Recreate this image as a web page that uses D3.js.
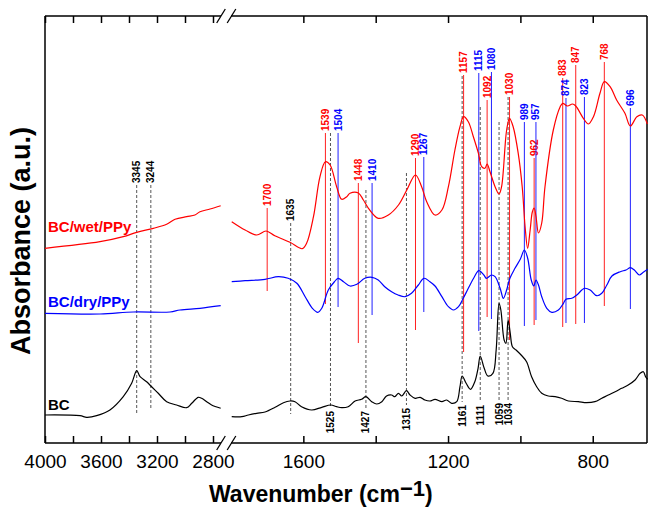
<!DOCTYPE html>
<html>
<head>
<meta charset="utf-8">
<script src="https://cdn.jsdelivr.net/npm/d3@7"></script>
<style>
  body { margin: 0; background: #fff; }
  svg { display: block; font-family: Arial, "Liberation Sans", sans-serif; }
</style>
</head>
<body>
<div id="chart"></div>
<script>
// spectra: [wavenumber (cm-1), absorbance (a.u.)]
const wetPPy = [
  [4000,1.947],[3607,2.013],[3441,2.063],[3345,2.107],[3226,2.147],[3131,2.187],[3071,2.237],
  [2988,2.263],[2929,2.28],[2893,2.313],[2821,2.34],[2745,2.373],
  [1798,2.213],[1761,2.13],[1729,2.08],[1703,2.12],[1679,2.073],[1637,2.007],[1603,1.943],
  [1591,1.997],[1572,2.263],[1554,2.663],[1539,2.813],[1526,2.78],[1508,2.563],[1494,2.437],
  [1480,2.463],[1471,2.497],[1448,2.5],[1434,2.43],[1420,2.347],[1393,2.247],[1365,2.28],
  [1337,2.38],[1314,2.53],[1290,2.68],[1273,2.563],[1259,2.413],[1236,2.28],[1217,2.33],
  [1199,2.563],[1181,2.93],[1167,3.163],[1157,3.263],[1144,3.213],[1130,3.063],[1116,2.897],
  [1107,2.763],[1098,2.747],[1092,2.79],[1084,2.713],[1070,2.563],[1059,2.49],[1052,2.563],
  [1038,3.13],[1030,3.247],[1020,3.163],[1006,2.897],[995,2.563],[987,2.163],[980,1.947],
  [973,2.13],[967,2.31],[962,2.35],[957,2.27],[950,2.1],[941,2.2],[932,2.563],[909,3.13],
  [890,3.363],[883,3.397],[870,3.37],[856,3.39],[847,3.37],[826,3.247],[812,3.19],[798,3.263],
  [780,3.497],[768,3.613],[752,3.563],[734,3.43],[711,3.297],[696,3.17],[678,3.263],[663,3.28],
  [649,3.19]
];
const dryPPy = [
  [4000,1.297],[3607,1.29],[3369,1.31],[3107,1.31],[3036,1.33],[2893,1.347],[2745,1.373],
  [1798,1.613],[1761,1.623],[1706,1.637],[1669,1.663],[1642,1.647],[1618,1.597],[1595,1.463],
  [1575,1.347],[1560,1.307],[1549,1.347],[1531,1.53],[1514,1.613],[1504,1.647],[1489,1.613],
  [1471,1.57],[1452,1.587],[1430,1.647],[1410,1.657],[1393,1.63],[1375,1.563],[1356,1.513],
  [1338,1.48],[1319,1.463],[1301,1.497],[1282,1.58],[1267,1.647],[1250,1.613],[1236,1.57],
  [1217,1.463],[1199,1.363],[1185,1.33],[1171,1.363],[1158,1.447],[1144,1.547],[1127,1.663],
  [1115,1.723],[1101,1.68],[1094,1.647],[1080,1.68],[1070,1.663],[1056,1.547],[1047,1.447],
  [1038,1.53],[1029,1.647],[1015,1.747],[1000,1.84],[989,1.93],[980,1.85],[970,1.63],
  [963,1.57],[957,1.63],[950,1.58],[941,1.463],[927,1.347],[913,1.307],[895,1.33],[881,1.397],
  [874,1.437],[858,1.447],[844,1.48],[830,1.53],[823,1.547],[807,1.53],[789,1.473],[775,1.497],
  [761,1.58],[747,1.67],[724,1.713],[708,1.73],[696,1.753],[685,1.73],[671,1.68],[662,1.703],
  [648,1.737]
];
const bc = [
  [4000,0.28],[3750,0.273],[3702,0.257],[3631,0.273],[3536,0.33],[3441,0.463],[3381,0.597],
  [3345,0.723],[3321,0.663],[3274,0.613],[3244,0.57],[3191,0.497],[3131,0.413],[3060,0.38],
  [2988,0.353],[2952,0.397],[2905,0.457],[2881,0.447],[2845,0.413],[2810,0.38],[2745,0.347],
  [1798,0.263],[1770,0.263],[1752,0.28],[1729,0.297],[1706,0.31],[1678,0.357],[1655,0.403],
  [1637,0.42],[1623,0.413],[1605,0.363],[1577,0.33],[1549,0.357],[1524,0.38],[1508,0.363],
  [1494,0.353],[1476,0.363],[1457,0.42],[1439,0.437],[1427,0.463],[1411,0.413],[1397,0.39],
  [1383,0.413],[1370,0.47],[1356,0.48],[1347,0.463],[1337,0.497],[1328,0.47],[1315,0.523],
  [1305,0.48],[1291,0.447],[1277,0.457],[1264,0.43],[1250,0.42],[1236,0.437],[1217,0.413],
  [1204,0.43],[1190,0.397],[1176,0.413],[1167,0.563],[1161,0.67],[1150,0.597],[1138,0.537],
  [1126,0.613],[1117,0.747],[1111,0.87],[1100,0.747],[1090,0.67],[1076,0.697],[1067,0.93],
  [1059,1.397],[1054,1.33],[1045,1.03],[1040,0.997],[1034,1.23],[1028,1.097],[1022,0.963],
  [1012,0.93],[998,0.88],[983,0.813],[969,0.663],[955,0.563],[941,0.497],[923,0.47],
  [904,0.463],[886,0.447],[867,0.42],[840,0.413],[817,0.403],[794,0.413],[775,0.447],
  [757,0.48],[738,0.513],[720,0.547],[702,0.58],[683,0.63],[669,0.697],[660,0.713],
  [654,0.663],[648,0.637]
];

// band markers: [wavenumber, top, bottom] in absorbance units
const redMarks = [[1700,2.35,1.52],[1539,3.10,1.39],[1448,2.60,1.00],[1290,2.85,1.13],
  [1157,3.68,0.91],[1092,3.43,1.26],[1030,3.46,1.03],[962,2.85,1.18],[883,3.65,1.16],
  [847,3.78,1.19],[768,3.81,1.37]];
const blueMarks = [[1504,3.10,1.36],[1410,2.60,1.28],[1267,2.86,1.31],[1115,3.70,1.12],
  [1080,3.71,1.24],[989,3.21,1.17],[957,3.21,1.23],[874,3.45,1.20],[823,3.46,1.20],
  [696,3.35,1.34]];
const bcTopMarks = [[3345,2.58,0.30],[3244,2.58,0.33],[1635,2.20,0.29]];
const bcBottomMarks = [[1525,3.10,0.35],[1427,2.53,0.35],[1315,2.70,0.38],[1161,3.67,0.41],
  [1111,3.36,0.41],[1059,3.21,0.43],[1034,3.46,0.43]];

const leftTicks = [4000,3800,3600,3400,3200,3000,2800];
const rightTicks = [1600,1400,1200,1000,800];

const width = 648, height = 508;

const svg = d3.select("#chart").append("svg")
    .attr("width", width)
    .attr("height", height);

// broken x axis: two scales
const xL = d3.scaleLinear().domain([4000, 2750]).range([45, 220]);
const xR = d3.scaleLinear().domain([1800, 650]).range([231, 647]);
const x = w => w > 2000 ? xL(w) : xR(w);
const y = d3.scaleLinear().domain([0, 4.27]).range([443, 16]);

// axes (ticks point inwards, labels only every 400)
function addAxis(scale, ticks, top) {
  const ax = (top ? d3.axisTop(scale) : d3.axisBottom(scale))
      .tickValues(ticks)
      .tickSizeInner(-7)
      .tickSizeOuter(0)
      .tickPadding(12)
      .tickFormat(d => !top && d % 400 === 0 ? d : "");
  const g = svg.append("g")
      .attr("transform", `translate(0,${top ? y.range()[1] : y.range()[0]})`)
      .call(ax);
  g.attr("font-family", null).attr("font-size", 19);
  g.select(".domain").remove();
  g.selectAll(".tick line").attr("stroke", "#000").attr("stroke-width", 1.5);
  g.selectAll(".tick text").attr("fill", "#000");
}
addAxis(xL, leftTicks, false);
addAxis(xR, rightTicks, false);
addAxis(xL, leftTicks, true);
addAxis(xR, rightTicks, true);

// frame with gap at the break
const y0 = y.range()[0], y1 = y.range()[1];
svg.append("path")
    .attr("fill", "none")
    .attr("stroke", "#000")
    .attr("stroke-width", 1.5)
    .attr("d", `M45,${y1}V${y0} M647,${y1}V${y0}
      M45,${y1}H221 M231,${y1}H647 M45,${y0}H221 M231,${y0}H647`);

// break marks "//"
[y1, y0].forEach(yy => {
  [221, 231.5].forEach(cx => {
    svg.append("line")
        .attr("x1", cx - 4.3).attr("y1", yy + 7)
        .attr("x2", cx + 4.3).attr("y2", yy - 7)
        .attr("stroke", "#000")
        .attr("stroke-width", 1.3);
  });
});

// band marker lines and labels
const markSets = [
  {data: redMarks, color: "#ff0000", line: "#ff2020", dash: null, below: false},
  {data: blueMarks, color: "#0000ff", line: "#2020ff", dash: null, below: false},
  {data: bcTopMarks, color: "#000", line: "#555", dash: "3,2", below: false},
  {data: bcBottomMarks, color: "#000", line: "#555", dash: "3,2", below: true}
];
markSets.forEach(set => {
  const g = svg.append("g");
  g.selectAll("line")
    .data(set.data)
    .join("line")
      .attr("x1", d => x(d[0])).attr("x2", d => x(d[0]))
      .attr("y1", d => y(d[1])).attr("y2", d => y(d[2]))
      .attr("stroke", set.line)
      .attr("stroke-width", 1)
      .attr("stroke-dasharray", set.dash);
  g.selectAll("text")
    .data(set.data)
    .join("text")
      .attr("transform", d => set.below
        ? `translate(${x(d[0])},${y(d[2]) + 3}) rotate(-90)`
        : `translate(${x(d[0])},${y(d[1]) - 2}) rotate(-90)`)
      .attr("text-anchor", set.below ? "end" : "start")
      .attr("dy", "0.35em")
      .attr("font-size", 10)
      .attr("font-weight", "bold")
      .attr("fill", set.color)
      .text(d => d[0]);
});

// spectra, drawn separately on each side of the break
const line = d3.line()
    .x(d => x(d[0]))
    .y(d => y(d[1]))
    .curve(d3.curveCatmullRom.alpha(0.5));

const series = [
  {name: "BC/wet/PPy", data: wetPPy, color: "#ff0000", ly: 232},
  {name: "BC/dry/PPy", data: dryPPy, color: "#0000ff", ly: 307},
  {name: "BC", data: bc, color: "#000", ly: 410}
];
series.forEach(s => {
  [s.data.filter(d => d[0] > 2000), s.data.filter(d => d[0] < 2000)].forEach(part => {
    svg.append("path")
        .attr("fill", "none")
        .attr("stroke", s.color)
        .attr("stroke-width", 1.2)
        .attr("d", line(part));
  });
  svg.append("text")
      .attr("x", 48)
      .attr("y", s.ly)
      .attr("fill", s.color)
      .attr("font-size", 15)
      .attr("font-weight", "bold")
      .text(s.name);
});

// axis titles
svg.append("text")
    .attr("transform", "translate(29.5,241) rotate(-90)")
    .attr("text-anchor", "middle")
    .attr("font-size", 27)
    .attr("font-weight", "bold")
    .text("Absorbance (a.u.)");

const xt = svg.append("text")
    .attr("x", 209)
    .attr("y", 502)
    .attr("font-size", 23)
    .attr("font-weight", "bold");
xt.append("tspan").text("Wavenumber (cm");
xt.append("tspan").attr("dy", -6).attr("font-size", 22).text("\u22121");
xt.append("tspan").attr("dy", 6).text(")");
</script>
</body>
</html>
